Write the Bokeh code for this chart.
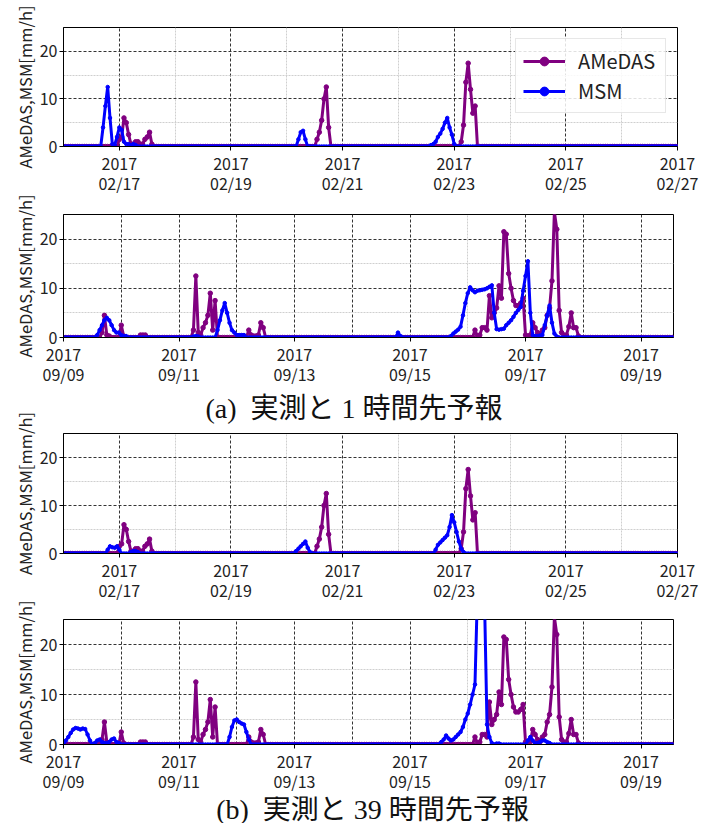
import numpy as np
import pandas as pd
from bokeh.plotting import figure
from bokeh.layouts import column, row
from bokeh.core.properties import value
from bokeh.models import (FixedTicker, DatetimeTickFormatter, Legend,
                          LegendItem, Range1d)
from bokeh.embed import file_html
from bokeh.resources import INLINE

# ---------------- data (hourly precipitation, mm/h) ----------------
feb_start = "2017-02-16 00:00"
feb_end = "2017-02-27 00:00"
feb_hours_total = 264
sep_start = "2017-09-09 00:00"
sep_end = "2017-09-19 13:30"
sep_hours_total = 253

# AMeDAS observations, February (hour offset from feb_start, value)
feb_amedas_h = [24, 25, 26, 27, 28, 29, 30, 31, 32, 33, 34, 35, 36, 37, 38,
                109, 110, 111, 112, 113, 114,
                171, 172, 173, 174, 175, 176, 177]
feb_amedas_v = [1.5, 2, 6, 5, 2.5, 0.5, 0.5, 1, 1, 0.5, 0.5, 1.5, 2, 3, 0.5,
                1.5, 3, 5.5, 10, 12.5, 4,
                1, 4.5, 13.5, 17.5, 12, 7, 8.5]

# MSM 1-hour forecast, February
feb_msm1_h = [17, 18, 19, 20, 21, 22, 23, 24, 25, 26, 27, 28, 29, 30, 31,
              101, 102, 103, 104,
              158, 159, 160, 161, 162, 163, 164, 165, 166, 167, 168]
feb_msm1_v = [4, 8.5, 12.5, 6, 0.5, 0.3, 2, 4, 3.5, 1, 0.5, 0.5, 0.3, 0.5, 0.3,
              1.5, 3, 3.3, 1.5,
              0.3, 0.5, 1, 2, 2.7, 3.7, 5, 6, 4, 2.5, 0.5]

# MSM 39-hour forecast, February
feb_msm39_h = [19, 20, 21, 22, 23, 24, 29, 30, 31, 32,
               100, 101, 102, 103, 104, 105, 106,
               160, 161, 162, 163, 164, 165, 166, 167, 168, 169, 170, 171, 172]
feb_msm39_v = [0.8, 1.5, 1.3, 1.2, 1.5, 0.8, 0.3, 0.5, 0.5, 0.3,
               0.5, 1, 1.5, 2, 2.5, 1.2, 0.3,
               0.8, 1.8, 2.3, 2.8, 3.3, 3.8, 5.5, 8, 6.5, 4.5, 2.5, 1, 0.3]

# AMeDAS observations, September
sep_amedas_h = [16, 17, 18, 19, 24, 25, 32, 33, 34,
                54, 55, 56, 57, 58, 59, 60, 61, 62, 63,
                77, 78, 79, 80, 81, 82, 83,
                171, 172, 173, 174, 175, 176, 177, 178, 179, 180, 181, 182,
                183, 184, 185, 186, 187, 188, 189, 190, 191, 192, 193, 194,
                195, 196, 197, 198, 199, 200, 201, 202, 203, 204, 205, 206,
                207, 208, 209, 210, 211, 212, 213, 214]
sep_amedas_v = [1, 4.5, 0.5, 0.3, 2.5, 0.3, 0.5, 0.5, 0.5,
                1.5, 12.5, 1, 0.5, 2, 3, 4.5, 9, 1.5, 7.5,
                1.5, 0.5, 0.3, 0.3, 0.5, 3, 2,
                1.5, 0.3, 0.5, 2, 2, 1.5, 8.5, 4, 5, 6, 10.5, 8,
                21.5, 21, 13, 10, 7.5, 6.5, 6.5, 7, 8, 0.5, 0.3, 0.5,
                3, 2, 1, 0.5, 1.5, 2, 4.5, 6, 11.5, 25.5, 22, 5.5,
                1, 0.5, 0.5, 2.2, 5, 2, 2, 0.3]

# MSM 1-hour forecast, September
sep_msm1_h = [14, 15, 16, 17, 18, 19, 20, 21, 22, 23, 24, 25, 26,
              54, 55, 56,
              64, 65, 66, 67, 68, 69, 70, 71, 72, 73, 74, 75,
              139, 140,
              161, 162, 163, 164, 165, 166, 167, 168, 169, 170, 171, 172,
              173, 174, 175, 176, 177, 178, 179, 180, 181, 182, 183, 184,
              185, 186, 187, 188, 189, 190, 191, 192, 193, 194, 195, 196,
              197, 198, 199, 200, 201, 202, 203, 204, 205]
sep_msm1_v = [0.5, 1.5, 2.5, 3.5, 4, 3.5, 2.5, 1.5, 1, 1, 0.5, 0.3, 0.3,
              0.2, 0.3, 0.2,
              1.5, 3.5, 5.5, 7, 5, 3, 1.5, 1, 0.5, 0.5, 0.5, 0.5,
              1, 0.3,
              0.3, 0.8, 1.2, 1.6, 2.2, 4.5, 7, 9, 10.2, 9.6, 9.2, 9.5,
              9.6, 9.7, 9.8, 10, 10.3, 10.6, 5, 1.7, 1.6, 1.7, 1.8, 2.5,
              3, 3.5, 4.2, 5, 5.6, 6.2, 9.5, 12.5, 15.5, 5, 0.5, 0.3,
              0.3, 0.4, 0.5, 2.5, 4.5, 6.5, 3, 0.8, 0.2]

# MSM 39-hour forecast, September
sep_msm39_h = [0, 1, 2, 3, 4, 5, 6, 7, 8, 9, 10, 11, 13, 14, 15, 16, 17, 18,
               19, 20, 21, 22, 23,
               69, 70, 71, 72, 73, 74, 75, 76, 77,
               157, 158, 159, 160, 161, 162, 163, 164, 165, 166, 167, 168,
               169, 170, 171, 172, 173, 174, 175, 176, 177, 178,
               180, 181, 193, 194, 195, 196, 197, 198, 199, 200, 201, 202]
sep_msm39_v = [0.2, 0.8, 1.5, 2.3, 3, 3.3, 3.2, 3, 3.2, 3.1, 2, 0.8, 0.3, 0.8,
               1, 0.5, 0.3, 0.3, 0.5, 1, 1.2, 0.5, 0.3,
               1.5, 3.5, 4.8, 5, 4.5, 4.2, 4, 2.5, 1,
               0.5, 1, 1.8, 1.2, 0.8, 1, 1.5, 2, 2.5, 3.5, 5, 6.2,
               8, 10, 12, 30, 35, 32, 28, 4, 1.5, 0.3,
               0.2, 0.2, 0.8, 1.5, 0.8, 0.3, 0.3, 0.5, 0.8, 0.8, 0.5, 0.3]

feb_tick_days = ["2017-02-17", "2017-02-19", "2017-02-21", "2017-02-23",
                 "2017-02-25", "2017-02-27"]
feb_minor_days = ["2017-02-16", "2017-02-18", "2017-02-20", "2017-02-22",
                  "2017-02-24", "2017-02-26"]
sep_tick_days = ["2017-09-09", "2017-09-11", "2017-09-13", "2017-09-15",
                 "2017-09-17", "2017-09-19"]
sep_grid_extra_days = ["2017-09-10", "2017-09-12", "2017-09-14", "2017-09-18"]
sep_minor_days = ["2017-09-16"]
y_ticks = [0, 10, 20]
y_minor = [5, 15]

y_label = "AMeDAS,MSM[mm/h]"
caption_a = "(a)\u00a0\u00a0実測と\u00a01\u00a0時間先予報"
caption_b = "(b)\u00a0\u00a0実測と\u00a039\u00a0時間先予報"

# ---------------- style / layout ----------------
FONT = "Noto Sans CJK JP"
CAP_FONT = "'Liberation Serif', 'Noto Sans CJK JP'"
AM_COLOR = "#800080"
MSM_COLOR = "#0000ff"
PAGE_H = 823
LABEL_W = 36
COL_W = 675


def ms(day):
    return pd.Timestamp(day).value / 1e6


def series(start, total, hours, vals):
    t = pd.date_range(start, periods=total + 1, freq="h")
    y = np.zeros(total + 1)
    y[np.array(hours)] = np.array(vals)
    return t, y


def blank(width, height):
    f = figure(width=width, height=height, output_backend="svg",
               toolbar_location=None, x_range=Range1d(0, width),
               y_range=Range1d(height, 0), x_axis_location=None,
               y_axis_location=None, min_border=0)
    f.outline_line_color = None
    f.xgrid.visible = False
    f.ygrid.visible = False
    return f


def caption_fig(text, height, x, y):
    f = blank(COL_W, height)
    f.text(x=[x], y=[y], text=[text], text_align="left",
           text_baseline="middle", text_font=value(CAP_FONT),
           text_font_size="28px", text_color="#111111")
    return f


def panel(start, end, total, am, msm, ticks, grid_major, grid_minor,
          frame_w, frame_h, bl, br, bt, bb, legend=False):
    p = figure(x_axis_type="datetime", output_backend="svg",
               toolbar_location=None, frame_width=frame_w,
               frame_height=frame_h, min_border_left=bl, min_border_right=br,
               min_border_top=bt, min_border_bottom=bb,
               x_range=Range1d(pd.Timestamp(start), pd.Timestamp(end)),
               y_range=Range1d(0, 25))
    p.background_fill_color = "white"
    p.outline_line_color = "black"
    p.outline_line_alpha = 1
    p.outline_line_width = 1

    t, ya = series(start, total, *am)
    t2, ym = series(start, total, *msm)
    l1 = p.line(t, ya, line_color=AM_COLOR, line_width=3)
    s1 = p.scatter(t, ya, size=4.5, color=AM_COLOR)
    l2 = p.line(t2, ym, line_color=MSM_COLOR, line_width=3)
    s2 = p.scatter(t2, ym, size=3.5, color=MSM_COLOR)

    p.xaxis.ticker = FixedTicker(ticks=[ms(d) for d in ticks])
    fmt = "%Y\n%m/%d"
    p.xaxis.formatter = DatetimeTickFormatter(
        days=fmt, months=fmt, years=fmt, hours=fmt, minutes=fmt,
        hourmin=fmt, seconds=fmt, milliseconds=fmt, minsec=fmt)
    p.yaxis.ticker = FixedTicker(ticks=y_ticks)
    for ax in (p.xaxis, p.yaxis):
        ax.major_label_text_font = FONT
        ax.major_label_text_font_size = "16px"
        ax.major_label_text_color = "#222222"
        ax.axis_line_color = "black"
        ax.major_tick_line_color = "black"
        ax.major_tick_out = 4
        ax.major_tick_in = 0
        ax.minor_tick_line_color = None
        ax.major_label_standoff = 2
    p.xaxis.major_label_standoff = 0
    p.xaxis.major_label_text_line_height = 0.85

    p.xgrid.ticker = FixedTicker(ticks=[ms(d) for d in grid_major],
                                 minor_ticks=[ms(d) for d in grid_minor])
    p.ygrid.ticker = FixedTicker(ticks=y_ticks, minor_ticks=y_minor)
    for g in (p.xgrid, p.ygrid):
        g.grid_line_color = "#333333"
        g.grid_line_dash = "3 2"
        g.grid_line_width = 1
        g.grid_line_alpha = 1
        g.minor_grid_line_color = "#cfcfcf"
        g.minor_grid_line_dash = "2 1"
        g.minor_grid_line_width = 1

    if legend:
        lg = Legend(items=[LegendItem(label="AMeDAS", renderers=[l1, s1]),
                           LegendItem(label="MSM", renderers=[l2, s2])],
                    location="top_right")
        lg.margin = 11
        lg.padding = 7
        lg.spacing = 1
        lg.glyph_width = 42
        lg.glyph_height = 22
        lg.label_standoff = 13
        lg.label_width = 80
        lg.label_text_font = FONT
        lg.label_text_font_size = "20px"
        lg.label_text_color = "#222222"
        lg.border_line_color = "#d0d0d0"
        lg.border_line_width = 1
        lg.background_fill_alpha = 0.85
        p.add_layout(lg)
    return p


# left strip carrying the rotated y-axis titles (centred on each frame)
label_y = [86.5, 275.5, 493, 681.5]
lab = blank(LABEL_W, PAGE_H)
lab.text(x=[24] * 4, y=label_y, text=[y_label] * 4, angle=np.pi / 2,
         text_align="center", text_baseline="middle",
         text_font=value(FONT), text_font_size="16.5px",
         text_color="#222222")

# y: 0-200
p1 = panel(feb_start, feb_end, feb_hours_total, (feb_amedas_h, feb_amedas_v),
           (feb_msm1_h, feb_msm1_v), feb_tick_days, feb_tick_days,
           feb_minor_days, 614, 119, 26, 35, 27, 54, legend=True)
# y: 200-389
p2 = panel(sep_start, sep_end, sep_hours_total, (sep_amedas_h, sep_amedas_v),
           (sep_msm1_h, sep_msm1_v), sep_tick_days,
           sep_tick_days + sep_grid_extra_days, sep_minor_days,
           610, 123, 27, 38, 14, 52)
# y: 389-427
cap_a = caption_fig(caption_a, 38, 157, 19)
# y: 427-611
p3 = panel(feb_start, feb_end, feb_hours_total, (feb_amedas_h, feb_amedas_v),
           (feb_msm39_h, feb_msm39_v), feb_tick_days, feb_tick_days,
           feb_minor_days, 614, 120, 26, 35, 6, 58)
# y: 611-796
p4 = panel(sep_start, sep_end, sep_hours_total, (sep_amedas_h, sep_amedas_v),
           (sep_msm39_h, sep_msm39_v), sep_tick_days,
           sep_tick_days + sep_grid_extra_days, sep_minor_days,
           610, 125, 27, 38, 8, 52)
# y: 796-823
cap_b = caption_fig(caption_b, 27, 169, 13)

layout = row(lab, column(p1, p2, cap_a, p3, p4, cap_b, spacing=0), spacing=0)
open("out.html", "w").write(file_html(layout, INLINE))
